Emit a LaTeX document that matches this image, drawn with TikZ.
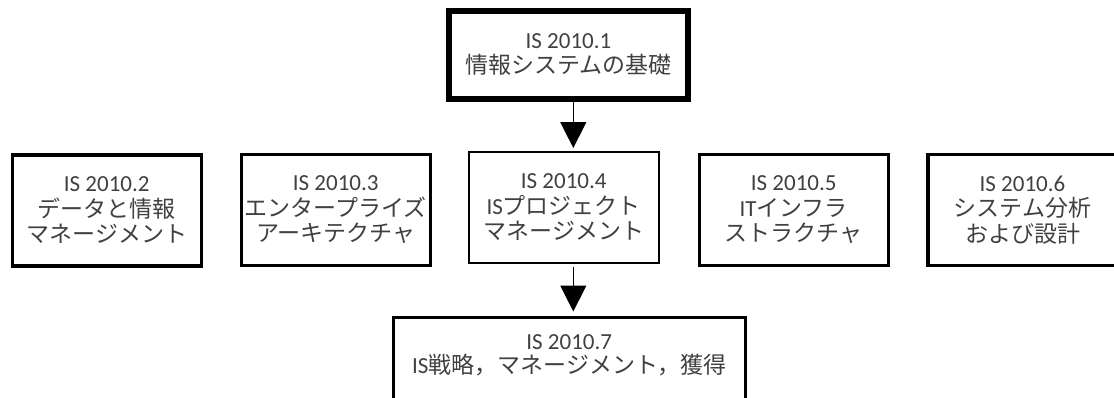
\documentclass[tikz,border=0pt]{standalone}
\usepackage{fontspec}
\setmainfont{Carlito}
\newfontfamily\jp{Noto Sans CJK JP}
\usetikzlibrary{arrows.meta}
\definecolor{txtgray}{RGB}{64,64,64}
\begin{document}
\begin{tikzpicture}[x=1pt,y=-1pt,
  box/.style={draw=black, rectangle, inner sep=0pt, outer sep=0pt, align=center,
    text=txtgray, font=\fontsize{23}{25.5}\selectfont},
  smallbox/.style={box, line width=3.5pt, minimum width=189pt, minimum height=111pt},
  txt/.style={inner sep=0pt, align=center, text=txtgray, font=\fontsize{23}{24}\selectfont},
  arr/.style={line width=1.3pt, -{Triangle[width=26pt,length=26pt]}}]
\useasboundingbox (0,0) rectangle (1114,397);
\clip (0,0) rectangle (1114,397);
\node[box, line width=6pt, minimum width=239pt, minimum height=88pt] (b1) at (568.5,54.5)
  {IS 2010.1\\{\jp 情報システムの基礎}};
\node[smallbox] (b2) at (106.75,210.5)
  {IS 2010.2\\{\jp データと情報}\\{\jp マネージメント}};
\node[smallbox] (b3) at (335.75,210)
  {IS 2010.3\\{\jp エンタープライズ}\\{\jp アーキテクチャ}};
\node[box, line width=2pt, minimum width=190.5pt, minimum height=111pt] (b4) at (563.75,207.5)
  {IS 2010.4\\IS{\jp プロジェクト}\\{\jp マネージメント}};
\node[smallbox] (b5) at (793.75,209.75)
  {IS 2010.5\\IT{\jp インフラ}\\{\jp ストラクチャ}};
\node[smallbox] (b6) at (1022.5,209.75)
  {IS 2010.6\\{\jp システム分析}\\{\jp および設計}};
\node[box, line width=3pt, minimum width=351.5pt, minimum height=120pt, anchor=north] (b7) at (569.25,317.5) {};
\node[txt] (t7) at (569.25,355) {IS 2010.7\\IS{\jp 戦略，マネージメント，獲得}};
\coordinate (ax) at (573.3,0);
\draw[arr, shorten <=1.5pt, shorten >=4pt] (b1.south -| ax) -- (b4.north -| ax);
\draw[arr, shorten <=4pt, shorten >=6pt] (b4.south -| ax) -- (b7.north -| ax);
\end{tikzpicture}
\end{document}
